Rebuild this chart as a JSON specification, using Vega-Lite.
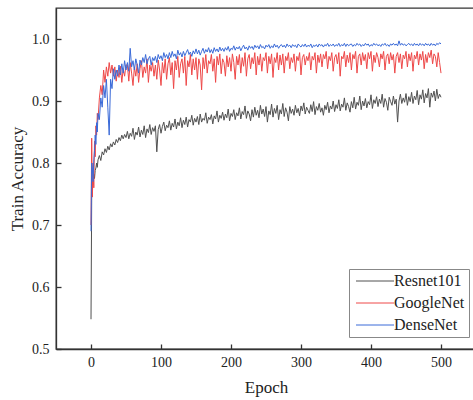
{
  "$schema": "https://vega.github.io/schema/vega-lite/v6.json",
  "width": 420,
  "height": 341,
  "autosize": {"type": "none"},
  "padding": {"left": 56, "top": 8, "right": 0, "bottom": 51},
  "background": "white",
  "config": {
    "font": "Liberation Serif",
    "view": {"stroke": "#333333", "strokeWidth": 1.3},
    "axis": {
      "domainColor": "#333333",
      "domainWidth": 1.3,
      "tickColor": "#333333",
      "tickWidth": 1.3,
      "tickSize": -5,
      "labelPadding": 12,
      "labelFont": "Liberation Serif",
      "labelFontSize": 14,
      "labelColor": "#222222",
      "titleFont": "Liberation Serif",
      "titleFontSize": 17,
      "titleFontWeight": "normal",
      "titleColor": "#222222",
      "grid": false
    }
  },
  "data": {
    "values": [
      {"Epoch": 0, "Resnet101": 0.548, "GoogleNet": 0.700, "DenseNet": 0.690},
      {"Epoch": 1, "Resnet101": 0.745, "GoogleNet": 0.840, "DenseNet": 0.800},
      {"Epoch": 2, "Resnet101": 0.770, "GoogleNet": 0.745, "DenseNet": 0.790},
      {"Epoch": 3, "Resnet101": 0.765, "GoogleNet": 0.800, "DenseNet": 0.770},
      {"Epoch": 4, "Resnet101": 0.782, "GoogleNet": 0.760, "DenseNet": 0.805},
      {"Epoch": 5, "Resnet101": 0.775, "GoogleNet": 0.835, "DenseNet": 0.820},
      {"Epoch": 6, "Resnet101": 0.788, "GoogleNet": 0.810, "DenseNet": 0.845},
      {"Epoch": 7, "Resnet101": 0.792, "GoogleNet": 0.860, "DenseNet": 0.830},
      {"Epoch": 8, "Resnet101": 0.800, "GoogleNet": 0.845, "DenseNet": 0.865},
      {"Epoch": 9, "Resnet101": 0.793, "GoogleNet": 0.880, "DenseNet": 0.850},
      {"Epoch": 10, "Resnet101": 0.805, "GoogleNet": 0.870, "DenseNet": 0.880},
      {"Epoch": 12, "Resnet101": 0.812, "GoogleNet": 0.905, "DenseNet": 0.870},
      {"Epoch": 14, "Resnet101": 0.804, "GoogleNet": 0.925, "DenseNet": 0.905},
      {"Epoch": 16, "Resnet101": 0.818, "GoogleNet": 0.910, "DenseNet": 0.890},
      {"Epoch": 18, "Resnet101": 0.813, "GoogleNet": 0.950, "DenseNet": 0.925},
      {"Epoch": 20, "Resnet101": 0.823, "GoogleNet": 0.930, "DenseNet": 0.905},
      {"Epoch": 22, "Resnet101": 0.817, "GoogleNet": 0.955, "DenseNet": 0.935},
      {"Epoch": 24, "Resnet101": 0.827, "GoogleNet": 0.940, "DenseNet": 0.890},
      {"Epoch": 26, "Resnet101": 0.821, "GoogleNet": 0.962, "DenseNet": 0.845},
      {"Epoch": 28, "Resnet101": 0.831, "GoogleNet": 0.945, "DenseNet": 0.935},
      {"Epoch": 30, "Resnet101": 0.826, "GoogleNet": 0.958, "DenseNet": 0.920},
      {"Epoch": 32, "Resnet101": 0.834, "GoogleNet": 0.940, "DenseNet": 0.952},
      {"Epoch": 34, "Resnet101": 0.829, "GoogleNet": 0.955, "DenseNet": 0.935},
      {"Epoch": 36, "Resnet101": 0.838, "GoogleNet": 0.932, "DenseNet": 0.950},
      {"Epoch": 38, "Resnet101": 0.833, "GoogleNet": 0.950, "DenseNet": 0.940},
      {"Epoch": 40, "Resnet101": 0.841, "GoogleNet": 0.938, "DenseNet": 0.958},
      {"Epoch": 42, "Resnet101": 0.836, "GoogleNet": 0.956, "DenseNet": 0.942},
      {"Epoch": 44, "Resnet101": 0.845, "GoogleNet": 0.930, "DenseNet": 0.960},
      {"Epoch": 46, "Resnet101": 0.839, "GoogleNet": 0.952, "DenseNet": 0.945},
      {"Epoch": 48, "Resnet101": 0.846, "GoogleNet": 0.940, "DenseNet": 0.965},
      {"Epoch": 50, "Resnet101": 0.841, "GoogleNet": 0.958, "DenseNet": 0.950},
      {"Epoch": 52, "Resnet101": 0.851, "GoogleNet": 0.958, "DenseNet": 0.962},
      {"Epoch": 54, "Resnet101": 0.839, "GoogleNet": 0.932, "DenseNet": 0.948},
      {"Epoch": 56, "Resnet101": 0.848, "GoogleNet": 0.962, "DenseNet": 0.985},
      {"Epoch": 58, "Resnet101": 0.843, "GoogleNet": 0.945, "DenseNet": 0.955},
      {"Epoch": 60, "Resnet101": 0.856, "GoogleNet": 0.925, "DenseNet": 0.965},
      {"Epoch": 62, "Resnet101": 0.838, "GoogleNet": 0.955, "DenseNet": 0.950},
      {"Epoch": 64, "Resnet101": 0.850, "GoogleNet": 0.940, "DenseNet": 0.968},
      {"Epoch": 66, "Resnet101": 0.845, "GoogleNet": 0.960, "DenseNet": 0.958},
      {"Epoch": 68, "Resnet101": 0.858, "GoogleNet": 0.930, "DenseNet": 0.945},
      {"Epoch": 70, "Resnet101": 0.842, "GoogleNet": 0.952, "DenseNet": 0.966},
      {"Epoch": 72, "Resnet101": 0.853, "GoogleNet": 0.965, "DenseNet": 0.958},
      {"Epoch": 74, "Resnet101": 0.846, "GoogleNet": 0.938, "DenseNet": 0.970},
      {"Epoch": 76, "Resnet101": 0.860, "GoogleNet": 0.955, "DenseNet": 0.962},
      {"Epoch": 78, "Resnet101": 0.841, "GoogleNet": 0.945, "DenseNet": 0.975},
      {"Epoch": 80, "Resnet101": 0.855, "GoogleNet": 0.968, "DenseNet": 0.960},
      {"Epoch": 82, "Resnet101": 0.849, "GoogleNet": 0.930, "DenseNet": 0.968},
      {"Epoch": 84, "Resnet101": 0.862, "GoogleNet": 0.958, "DenseNet": 0.972},
      {"Epoch": 86, "Resnet101": 0.846, "GoogleNet": 0.948, "DenseNet": 0.958},
      {"Epoch": 88, "Resnet101": 0.857, "GoogleNet": 0.962, "DenseNet": 0.970},
      {"Epoch": 90, "Resnet101": 0.851, "GoogleNet": 0.940, "DenseNet": 0.965},
      {"Epoch": 92, "Resnet101": 0.860, "GoogleNet": 0.958, "DenseNet": 0.972},
      {"Epoch": 94, "Resnet101": 0.818, "GoogleNet": 0.935, "DenseNet": 0.962},
      {"Epoch": 96, "Resnet101": 0.854, "GoogleNet": 0.966, "DenseNet": 0.975},
      {"Epoch": 98, "Resnet101": 0.862, "GoogleNet": 0.950, "DenseNet": 0.968},
      {"Epoch": 100, "Resnet101": 0.848, "GoogleNet": 0.925, "DenseNet": 0.973},
      {"Epoch": 102, "Resnet101": 0.859, "GoogleNet": 0.962, "DenseNet": 0.965},
      {"Epoch": 104, "Resnet101": 0.866, "GoogleNet": 0.945, "DenseNet": 0.978},
      {"Epoch": 106, "Resnet101": 0.852, "GoogleNet": 0.968, "DenseNet": 0.970},
      {"Epoch": 108, "Resnet101": 0.861, "GoogleNet": 0.935, "DenseNet": 0.975},
      {"Epoch": 110, "Resnet101": 0.857, "GoogleNet": 0.960, "DenseNet": 0.968},
      {"Epoch": 112, "Resnet101": 0.868, "GoogleNet": 0.970, "DenseNet": 0.978},
      {"Epoch": 114, "Resnet101": 0.853, "GoogleNet": 0.942, "DenseNet": 0.970},
      {"Epoch": 116, "Resnet101": 0.864, "GoogleNet": 0.962, "DenseNet": 0.980},
      {"Epoch": 118, "Resnet101": 0.858, "GoogleNet": 0.920, "DenseNet": 0.972},
      {"Epoch": 120, "Resnet101": 0.871, "GoogleNet": 0.965, "DenseNet": 0.976},
      {"Epoch": 122, "Resnet101": 0.855, "GoogleNet": 0.950, "DenseNet": 0.968},
      {"Epoch": 124, "Resnet101": 0.866, "GoogleNet": 0.972, "DenseNet": 0.982},
      {"Epoch": 126, "Resnet101": 0.860, "GoogleNet": 0.938, "DenseNet": 0.974},
      {"Epoch": 128, "Resnet101": 0.873, "GoogleNet": 0.960, "DenseNet": 0.978},
      {"Epoch": 130, "Resnet101": 0.857, "GoogleNet": 0.968, "DenseNet": 0.971},
      {"Epoch": 132, "Resnet101": 0.869, "GoogleNet": 0.945, "DenseNet": 0.980},
      {"Epoch": 134, "Resnet101": 0.862, "GoogleNet": 0.972, "DenseNet": 0.973},
      {"Epoch": 136, "Resnet101": 0.874, "GoogleNet": 0.925, "DenseNet": 0.978},
      {"Epoch": 138, "Resnet101": 0.858, "GoogleNet": 0.965, "DenseNet": 0.983},
      {"Epoch": 140, "Resnet101": 0.870, "GoogleNet": 0.955, "DenseNet": 0.975},
      {"Epoch": 142, "Resnet101": 0.866, "GoogleNet": 0.975, "DenseNet": 0.979},
      {"Epoch": 144, "Resnet101": 0.877, "GoogleNet": 0.942, "DenseNet": 0.972},
      {"Epoch": 146, "Resnet101": 0.861, "GoogleNet": 0.968, "DenseNet": 0.981},
      {"Epoch": 148, "Resnet101": 0.872, "GoogleNet": 0.950, "DenseNet": 0.976},
      {"Epoch": 150, "Resnet101": 0.866, "GoogleNet": 0.970, "DenseNet": 0.984},
      {"Epoch": 152, "Resnet101": 0.875, "GoogleNet": 0.935, "DenseNet": 0.976},
      {"Epoch": 154, "Resnet101": 0.862, "GoogleNet": 0.968, "DenseNet": 0.982},
      {"Epoch": 156, "Resnet101": 0.879, "GoogleNet": 0.958, "DenseNet": 0.974},
      {"Epoch": 158, "Resnet101": 0.866, "GoogleNet": 0.918, "DenseNet": 0.980},
      {"Epoch": 160, "Resnet101": 0.872, "GoogleNet": 0.970, "DenseNet": 0.985},
      {"Epoch": 162, "Resnet101": 0.869, "GoogleNet": 0.952, "DenseNet": 0.977},
      {"Epoch": 164, "Resnet101": 0.881, "GoogleNet": 0.975, "DenseNet": 0.983},
      {"Epoch": 166, "Resnet101": 0.864, "GoogleNet": 0.945, "DenseNet": 0.979},
      {"Epoch": 168, "Resnet101": 0.874, "GoogleNet": 0.965, "DenseNet": 0.986},
      {"Epoch": 170, "Resnet101": 0.870, "GoogleNet": 0.960, "DenseNet": 0.978},
      {"Epoch": 172, "Resnet101": 0.878, "GoogleNet": 0.975, "DenseNet": 0.983},
      {"Epoch": 174, "Resnet101": 0.863, "GoogleNet": 0.948, "DenseNet": 0.977},
      {"Epoch": 176, "Resnet101": 0.876, "GoogleNet": 0.968, "DenseNet": 0.986},
      {"Epoch": 178, "Resnet101": 0.871, "GoogleNet": 0.930, "DenseNet": 0.980},
      {"Epoch": 180, "Resnet101": 0.884, "GoogleNet": 0.972, "DenseNet": 0.984},
      {"Epoch": 182, "Resnet101": 0.866, "GoogleNet": 0.958, "DenseNet": 0.979},
      {"Epoch": 184, "Resnet101": 0.877, "GoogleNet": 0.976, "DenseNet": 0.987},
      {"Epoch": 186, "Resnet101": 0.872, "GoogleNet": 0.944, "DenseNet": 0.981},
      {"Epoch": 188, "Resnet101": 0.882, "GoogleNet": 0.968, "DenseNet": 0.985},
      {"Epoch": 190, "Resnet101": 0.869, "GoogleNet": 0.962, "DenseNet": 0.980},
      {"Epoch": 192, "Resnet101": 0.879, "GoogleNet": 0.940, "DenseNet": 0.986},
      {"Epoch": 194, "Resnet101": 0.873, "GoogleNet": 0.973, "DenseNet": 0.982},
      {"Epoch": 196, "Resnet101": 0.887, "GoogleNet": 0.955, "DenseNet": 0.988},
      {"Epoch": 198, "Resnet101": 0.868, "GoogleNet": 0.970, "DenseNet": 0.980},
      {"Epoch": 200, "Resnet101": 0.880, "GoogleNet": 0.948, "DenseNet": 0.985},
      {"Epoch": 202, "Resnet101": 0.875, "GoogleNet": 0.976, "DenseNet": 0.983},
      {"Epoch": 204, "Resnet101": 0.886, "GoogleNet": 0.962, "DenseNet": 0.989},
      {"Epoch": 206, "Resnet101": 0.870, "GoogleNet": 0.935, "DenseNet": 0.982},
      {"Epoch": 208, "Resnet101": 0.881, "GoogleNet": 0.972, "DenseNet": 0.987},
      {"Epoch": 210, "Resnet101": 0.876, "GoogleNet": 0.958, "DenseNet": 0.984},
      {"Epoch": 212, "Resnet101": 0.889, "GoogleNet": 0.975, "DenseNet": 0.988},
      {"Epoch": 214, "Resnet101": 0.871, "GoogleNet": 0.945, "DenseNet": 0.981},
      {"Epoch": 216, "Resnet101": 0.883, "GoogleNet": 0.970, "DenseNet": 0.986},
      {"Epoch": 218, "Resnet101": 0.878, "GoogleNet": 0.956, "DenseNet": 0.990},
      {"Epoch": 220, "Resnet101": 0.892, "GoogleNet": 0.978, "DenseNet": 0.984},
      {"Epoch": 222, "Resnet101": 0.872, "GoogleNet": 0.940, "DenseNet": 0.987},
      {"Epoch": 224, "Resnet101": 0.884, "GoogleNet": 0.968, "DenseNet": 0.982},
      {"Epoch": 226, "Resnet101": 0.879, "GoogleNet": 0.975, "DenseNet": 0.989},
      {"Epoch": 228, "Resnet101": 0.868, "GoogleNet": 0.952, "DenseNet": 0.985},
      {"Epoch": 230, "Resnet101": 0.886, "GoogleNet": 0.970, "DenseNet": 0.988},
      {"Epoch": 232, "Resnet101": 0.874, "GoogleNet": 0.960, "DenseNet": 0.983},
      {"Epoch": 234, "Resnet101": 0.890, "GoogleNet": 0.978, "DenseNet": 0.990},
      {"Epoch": 236, "Resnet101": 0.877, "GoogleNet": 0.942, "DenseNet": 0.986},
      {"Epoch": 238, "Resnet101": 0.885, "GoogleNet": 0.972, "DenseNet": 0.989},
      {"Epoch": 240, "Resnet101": 0.873, "GoogleNet": 0.958, "DenseNet": 0.984},
      {"Epoch": 242, "Resnet101": 0.893, "GoogleNet": 0.976, "DenseNet": 0.991},
      {"Epoch": 244, "Resnet101": 0.879, "GoogleNet": 0.948, "DenseNet": 0.986},
      {"Epoch": 246, "Resnet101": 0.887, "GoogleNet": 0.970, "DenseNet": 0.988},
      {"Epoch": 248, "Resnet101": 0.875, "GoogleNet": 0.965, "DenseNet": 0.984},
      {"Epoch": 250, "Resnet101": 0.891, "GoogleNet": 0.978, "DenseNet": 0.990},
      {"Epoch": 252, "Resnet101": 0.866, "GoogleNet": 0.945, "DenseNet": 0.987},
      {"Epoch": 254, "Resnet101": 0.884, "GoogleNet": 0.972, "DenseNet": 0.991},
      {"Epoch": 256, "Resnet101": 0.878, "GoogleNet": 0.960, "DenseNet": 0.985},
      {"Epoch": 258, "Resnet101": 0.895, "GoogleNet": 0.976, "DenseNet": 0.989},
      {"Epoch": 260, "Resnet101": 0.874, "GoogleNet": 0.938, "DenseNet": 0.986},
      {"Epoch": 262, "Resnet101": 0.888, "GoogleNet": 0.970, "DenseNet": 0.992},
      {"Epoch": 264, "Resnet101": 0.880, "GoogleNet": 0.962, "DenseNet": 0.987},
      {"Epoch": 266, "Resnet101": 0.893, "GoogleNet": 0.978, "DenseNet": 0.990},
      {"Epoch": 268, "Resnet101": 0.870, "GoogleNet": 0.950, "DenseNet": 0.985},
      {"Epoch": 270, "Resnet101": 0.886, "GoogleNet": 0.974, "DenseNet": 0.989},
      {"Epoch": 272, "Resnet101": 0.879, "GoogleNet": 0.958, "DenseNet": 0.991},
      {"Epoch": 274, "Resnet101": 0.896, "GoogleNet": 0.976, "DenseNet": 0.987},
      {"Epoch": 276, "Resnet101": 0.875, "GoogleNet": 0.945, "DenseNet": 0.990},
      {"Epoch": 278, "Resnet101": 0.889, "GoogleNet": 0.972, "DenseNet": 0.986},
      {"Epoch": 280, "Resnet101": 0.882, "GoogleNet": 0.965, "DenseNet": 0.992},
      {"Epoch": 282, "Resnet101": 0.868, "GoogleNet": 0.978, "DenseNet": 0.988},
      {"Epoch": 284, "Resnet101": 0.891, "GoogleNet": 0.952, "DenseNet": 0.990},
      {"Epoch": 286, "Resnet101": 0.880, "GoogleNet": 0.970, "DenseNet": 0.986},
      {"Epoch": 288, "Resnet101": 0.887, "GoogleNet": 0.962, "DenseNet": 0.991},
      {"Epoch": 290, "Resnet101": 0.877, "GoogleNet": 0.976, "DenseNet": 0.988},
      {"Epoch": 292, "Resnet101": 0.893, "GoogleNet": 0.948, "DenseNet": 0.990},
      {"Epoch": 294, "Resnet101": 0.881, "GoogleNet": 0.972, "DenseNet": 0.986},
      {"Epoch": 296, "Resnet101": 0.888, "GoogleNet": 0.965, "DenseNet": 0.992},
      {"Epoch": 298, "Resnet101": 0.876, "GoogleNet": 0.978, "DenseNet": 0.989},
      {"Epoch": 300, "Resnet101": 0.892, "GoogleNet": 0.942, "DenseNet": 0.987},
      {"Epoch": 302, "Resnet101": 0.884, "GoogleNet": 0.970, "DenseNet": 0.991},
      {"Epoch": 304, "Resnet101": 0.897, "GoogleNet": 0.975, "DenseNet": 0.988},
      {"Epoch": 306, "Resnet101": 0.879, "GoogleNet": 0.958, "DenseNet": 0.992},
      {"Epoch": 308, "Resnet101": 0.890, "GoogleNet": 0.972, "DenseNet": 0.987},
      {"Epoch": 310, "Resnet101": 0.885, "GoogleNet": 0.965, "DenseNet": 0.990},
      {"Epoch": 312, "Resnet101": 0.880, "GoogleNet": 0.978, "DenseNet": 0.988},
      {"Epoch": 314, "Resnet101": 0.894, "GoogleNet": 0.950, "DenseNet": 0.992},
      {"Epoch": 316, "Resnet101": 0.883, "GoogleNet": 0.972, "DenseNet": 0.986},
      {"Epoch": 318, "Resnet101": 0.899, "GoogleNet": 0.966, "DenseNet": 0.990},
      {"Epoch": 320, "Resnet101": 0.878, "GoogleNet": 0.978, "DenseNet": 0.988},
      {"Epoch": 322, "Resnet101": 0.891, "GoogleNet": 0.945, "DenseNet": 0.991},
      {"Epoch": 324, "Resnet101": 0.885, "GoogleNet": 0.974, "DenseNet": 0.987},
      {"Epoch": 326, "Resnet101": 0.896, "GoogleNet": 0.962, "DenseNet": 0.992},
      {"Epoch": 328, "Resnet101": 0.882, "GoogleNet": 0.976, "DenseNet": 0.989},
      {"Epoch": 330, "Resnet101": 0.889, "GoogleNet": 0.955, "DenseNet": 0.991},
      {"Epoch": 332, "Resnet101": 0.877, "GoogleNet": 0.975, "DenseNet": 0.987},
      {"Epoch": 334, "Resnet101": 0.893, "GoogleNet": 0.968, "DenseNet": 0.991},
      {"Epoch": 336, "Resnet101": 0.886, "GoogleNet": 0.980, "DenseNet": 0.989},
      {"Epoch": 338, "Resnet101": 0.898, "GoogleNet": 0.952, "DenseNet": 0.993},
      {"Epoch": 340, "Resnet101": 0.881, "GoogleNet": 0.972, "DenseNet": 0.988},
      {"Epoch": 342, "Resnet101": 0.892, "GoogleNet": 0.965, "DenseNet": 0.991},
      {"Epoch": 344, "Resnet101": 0.887, "GoogleNet": 0.978, "DenseNet": 0.989},
      {"Epoch": 346, "Resnet101": 0.900, "GoogleNet": 0.948, "DenseNet": 0.992},
      {"Epoch": 348, "Resnet101": 0.883, "GoogleNet": 0.970, "DenseNet": 0.988},
      {"Epoch": 350, "Resnet101": 0.894, "GoogleNet": 0.975, "DenseNet": 0.991},
      {"Epoch": 352, "Resnet101": 0.888, "GoogleNet": 0.960, "DenseNet": 0.989},
      {"Epoch": 354, "Resnet101": 0.902, "GoogleNet": 0.978, "DenseNet": 0.993},
      {"Epoch": 356, "Resnet101": 0.884, "GoogleNet": 0.940, "DenseNet": 0.988},
      {"Epoch": 358, "Resnet101": 0.895, "GoogleNet": 0.972, "DenseNet": 0.991},
      {"Epoch": 360, "Resnet101": 0.890, "GoogleNet": 0.968, "DenseNet": 0.989},
      {"Epoch": 362, "Resnet101": 0.905, "GoogleNet": 0.980, "DenseNet": 0.993},
      {"Epoch": 364, "Resnet101": 0.885, "GoogleNet": 0.955, "DenseNet": 0.988},
      {"Epoch": 366, "Resnet101": 0.897, "GoogleNet": 0.974, "DenseNet": 0.992},
      {"Epoch": 368, "Resnet101": 0.891, "GoogleNet": 0.962, "DenseNet": 0.989},
      {"Epoch": 370, "Resnet101": 0.882, "GoogleNet": 0.978, "DenseNet": 0.991},
      {"Epoch": 372, "Resnet101": 0.899, "GoogleNet": 0.950, "DenseNet": 0.992},
      {"Epoch": 374, "Resnet101": 0.889, "GoogleNet": 0.975, "DenseNet": 0.988},
      {"Epoch": 376, "Resnet101": 0.906, "GoogleNet": 0.968, "DenseNet": 0.991},
      {"Epoch": 378, "Resnet101": 0.887, "GoogleNet": 0.980, "DenseNet": 0.989},
      {"Epoch": 380, "Resnet101": 0.898, "GoogleNet": 0.945, "DenseNet": 0.993},
      {"Epoch": 382, "Resnet101": 0.893, "GoogleNet": 0.972, "DenseNet": 0.990},
      {"Epoch": 384, "Resnet101": 0.908, "GoogleNet": 0.976, "DenseNet": 0.992},
      {"Epoch": 386, "Resnet101": 0.886, "GoogleNet": 0.958, "DenseNet": 0.988},
      {"Epoch": 388, "Resnet101": 0.900, "GoogleNet": 0.978, "DenseNet": 0.991},
      {"Epoch": 390, "Resnet101": 0.892, "GoogleNet": 0.965, "DenseNet": 0.989},
      {"Epoch": 392, "Resnet101": 0.904, "GoogleNet": 0.975, "DenseNet": 0.993},
      {"Epoch": 394, "Resnet101": 0.889, "GoogleNet": 0.952, "DenseNet": 0.990},
      {"Epoch": 396, "Resnet101": 0.899, "GoogleNet": 0.978, "DenseNet": 0.992},
      {"Epoch": 398, "Resnet101": 0.894, "GoogleNet": 0.968, "DenseNet": 0.988},
      {"Epoch": 400, "Resnet101": 0.910, "GoogleNet": 0.980, "DenseNet": 0.991},
      {"Epoch": 402, "Resnet101": 0.888, "GoogleNet": 0.948, "DenseNet": 0.989},
      {"Epoch": 404, "Resnet101": 0.902, "GoogleNet": 0.974, "DenseNet": 0.993},
      {"Epoch": 406, "Resnet101": 0.896, "GoogleNet": 0.962, "DenseNet": 0.990},
      {"Epoch": 408, "Resnet101": 0.907, "GoogleNet": 0.978, "DenseNet": 0.992},
      {"Epoch": 410, "Resnet101": 0.891, "GoogleNet": 0.970, "DenseNet": 0.989},
      {"Epoch": 412, "Resnet101": 0.903, "GoogleNet": 0.955, "DenseNet": 0.991},
      {"Epoch": 414, "Resnet101": 0.896, "GoogleNet": 0.976, "DenseNet": 0.988},
      {"Epoch": 416, "Resnet101": 0.911, "GoogleNet": 0.968, "DenseNet": 0.992},
      {"Epoch": 418, "Resnet101": 0.890, "GoogleNet": 0.980, "DenseNet": 0.990},
      {"Epoch": 420, "Resnet101": 0.904, "GoogleNet": 0.950, "DenseNet": 0.993},
      {"Epoch": 422, "Resnet101": 0.898, "GoogleNet": 0.972, "DenseNet": 0.989},
      {"Epoch": 424, "Resnet101": 0.885, "GoogleNet": 0.976, "DenseNet": 0.991},
      {"Epoch": 426, "Resnet101": 0.906, "GoogleNet": 0.960, "DenseNet": 0.988},
      {"Epoch": 428, "Resnet101": 0.899, "GoogleNet": 0.978, "DenseNet": 0.992},
      {"Epoch": 430, "Resnet101": 0.893, "GoogleNet": 0.966, "DenseNet": 0.990},
      {"Epoch": 432, "Resnet101": 0.908, "GoogleNet": 0.975, "DenseNet": 0.993},
      {"Epoch": 434, "Resnet101": 0.895, "GoogleNet": 0.945, "DenseNet": 0.990},
      {"Epoch": 436, "Resnet101": 0.903, "GoogleNet": 0.972, "DenseNet": 0.992},
      {"Epoch": 438, "Resnet101": 0.866, "GoogleNet": 0.978, "DenseNet": 0.989},
      {"Epoch": 440, "Resnet101": 0.900, "GoogleNet": 0.962, "DenseNet": 0.997},
      {"Epoch": 442, "Resnet101": 0.911, "GoogleNet": 0.976, "DenseNet": 0.990},
      {"Epoch": 444, "Resnet101": 0.896, "GoogleNet": 0.952, "DenseNet": 0.993},
      {"Epoch": 446, "Resnet101": 0.905, "GoogleNet": 0.974, "DenseNet": 0.990},
      {"Epoch": 448, "Resnet101": 0.898, "GoogleNet": 0.968, "DenseNet": 0.992},
      {"Epoch": 450, "Resnet101": 0.912, "GoogleNet": 0.980, "DenseNet": 0.989},
      {"Epoch": 452, "Resnet101": 0.893, "GoogleNet": 0.955, "DenseNet": 0.991},
      {"Epoch": 454, "Resnet101": 0.907, "GoogleNet": 0.976, "DenseNet": 0.993},
      {"Epoch": 456, "Resnet101": 0.899, "GoogleNet": 0.965, "DenseNet": 0.990},
      {"Epoch": 458, "Resnet101": 0.914, "GoogleNet": 0.978, "DenseNet": 0.992},
      {"Epoch": 460, "Resnet101": 0.896, "GoogleNet": 0.948, "DenseNet": 0.989},
      {"Epoch": 462, "Resnet101": 0.908, "GoogleNet": 0.974, "DenseNet": 0.993},
      {"Epoch": 464, "Resnet101": 0.902, "GoogleNet": 0.968, "DenseNet": 0.990},
      {"Epoch": 466, "Resnet101": 0.917, "GoogleNet": 0.980, "DenseNet": 0.992},
      {"Epoch": 468, "Resnet101": 0.894, "GoogleNet": 0.958, "DenseNet": 0.989},
      {"Epoch": 470, "Resnet101": 0.910, "GoogleNet": 0.976, "DenseNet": 0.993},
      {"Epoch": 472, "Resnet101": 0.903, "GoogleNet": 0.966, "DenseNet": 0.990},
      {"Epoch": 474, "Resnet101": 0.918, "GoogleNet": 0.980, "DenseNet": 0.992},
      {"Epoch": 476, "Resnet101": 0.897, "GoogleNet": 0.952, "DenseNet": 0.989},
      {"Epoch": 478, "Resnet101": 0.912, "GoogleNet": 0.975, "DenseNet": 0.993},
      {"Epoch": 480, "Resnet101": 0.905, "GoogleNet": 0.962, "DenseNet": 0.990},
      {"Epoch": 482, "Resnet101": 0.920, "GoogleNet": 0.978, "DenseNet": 0.992},
      {"Epoch": 484, "Resnet101": 0.890, "GoogleNet": 0.970, "DenseNet": 0.989},
      {"Epoch": 486, "Resnet101": 0.913, "GoogleNet": 0.982, "DenseNet": 0.993},
      {"Epoch": 488, "Resnet101": 0.906, "GoogleNet": 0.960, "DenseNet": 0.990},
      {"Epoch": 490, "Resnet101": 0.916, "GoogleNet": 0.976, "DenseNet": 0.992},
      {"Epoch": 492, "Resnet101": 0.900, "GoogleNet": 0.972, "DenseNet": 0.989},
      {"Epoch": 494, "Resnet101": 0.919, "GoogleNet": 0.955, "DenseNet": 0.993},
      {"Epoch": 496, "Resnet101": 0.904, "GoogleNet": 0.978, "DenseNet": 0.991},
      {"Epoch": 498, "Resnet101": 0.911, "GoogleNet": 0.962, "DenseNet": 0.994},
      {"Epoch": 500, "Resnet101": 0.906, "GoogleNet": 0.945, "DenseNet": 0.992}
    ]
  },
  "transform": [
    {"fold": ["Resnet101", "GoogleNet", "DenseNet"], "as": ["Model", "Accuracy"]}
  ],
  "mark": {"type": "line", "strokeWidth": 1, "clip": true},
  "encoding": {
    "x": {
      "field": "Epoch",
      "type": "quantitative",
      "scale": {"domain": [-50, 550], "nice": false, "zero": false},
      "axis": {
        "values": [0, 100, 200, 300, 400, 500],
        "format": "d",
        "title": "Epoch",
        "labelPadding": 11,
        "titlePadding": 10
      }
    },
    "y": {
      "field": "Accuracy",
      "type": "quantitative",
      "scale": {"domain": [0.5, 1.05], "nice": false, "zero": false},
      "axis": {
        "values": [0.5, 0.6, 0.7, 0.8, 0.9, 1.0],
        "format": ".1f",
        "title": "Train Accuracy",
        "titlePadding": 5
      }
    },
    "color": {
      "field": "Model",
      "type": "nominal",
      "sort": ["Resnet101", "GoogleNet", "DenseNet"],
      "scale": {
        "domain": ["Resnet101", "GoogleNet", "DenseNet"],
        "range": ["#505050", "#ee4848", "#3a6ad8"]
      },
      "legend": {
        "orient": "none",
        "legendX": 293,
        "legendY": 261,
        "direction": "vertical",
        "title": null,
        "symbolType": "M-3.8,0H3.8",
        "symbolSize": 100,
        "symbolStrokeWidth": 1,
        "symbolOffset": 14,
        "labelFont": "Liberation Serif",
        "labelFontSize": 16,
        "labelColor": "#222222",
        "labelOffset": 11,
        "rowPadding": 6,
        "strokeColor": "#888888",
        "fillColor": "white",
        "padding": 4
      }
    }
  }
}
